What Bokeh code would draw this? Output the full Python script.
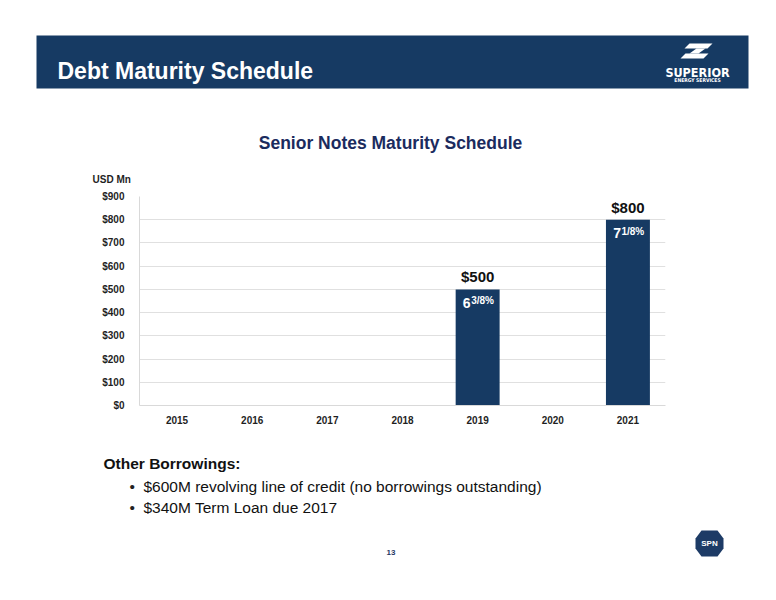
from bokeh.plotting import figure
from bokeh.models import Range1d, FactorRange, ColumnDataSource, LabelSet, FixedTicker
from bokeh.layouts import column
from bokeh.embed import file_html
from bokeh.resources import INLINE
from bokeh.core.properties import value

# ---------------- data ----------------
years = ["2015", "2016", "2017", "2018", "2019", "2020", "2021"]
maturities = [0, 0, 0, 0, 500, 0, 800]          # USD Mn
note_years = ["2019", "2021"]
note_amounts = [500, 800]
note_labels = ["$500", "$800"]
coupon_whole = ["6", "7"]
coupon_frac = ["3/8%", "1/8%"]
y_ticks = [0, 100, 200, 300, 400, 500, 600, 700, 800, 900]
y_tick_labels = ["$0", "$100", "$200", "$300", "$400", "$500", "$600", "$700", "$800", "$900"]
slide_title = "Debt Maturity Schedule"
chart_title = "Senior Notes Maturity Schedule"
unit_label = "USD Mn"
other_head = "Other Borrowings:"
bullets = ["$600M revolving line of credit (no borrowings outstanding)",
           "$340M Term Loan due 2017"]
page_no = "13"

NAVY = "#163a63"
FONT = "Liberation Sans"
W = 776


def canvas(h):
    p = figure(width=W, height=h, x_range=Range1d(0, W), y_range=Range1d(h, 0),
               x_axis_type=None, y_axis_type=None, toolbar_location=None,
               output_backend="svg")
    p.frame_align = False
    p.min_border_left = 0
    p.min_border_right = 0
    p.min_border_top = 0
    p.min_border_bottom = 0
    p.outline_line_color = None
    p.background_fill_color = "white"
    p.border_fill_color = "white"
    return p


# ---------------- header ----------------
top = canvas(185)
top.quad(left=36, right=748, top=35, bottom=88, fill_color=NAVY, line_color=None)
top.text(x=[57], y=[70.5], text=[slide_title], text_font=value(FONT),
         text_font_size="23px", text_font_style="bold", text_color="white",
         text_align="left", text_baseline="alphabetic")
# logo mark
top.patches(xs=[[689, 712, 707, 684], [685, 708, 703, 680], [696, 705, 698, 689]],
            ys=[[43, 43, 48, 48], [53, 53, 58, 58], [48, 48, 53, 53]],
            fill_color="white", line_color=None)
top.text(x=[697], y=[72], text=["SUPERIOR"], text_font=value("DejaVu Sans Condensed"),
         text_font_size="12.5px", text_font_style="bold", text_color="white",
         text_align="center", text_baseline="alphabetic")
top.text(x=[697], y=[79], text=["ENERGY SERVICES"], text_font=value("DejaVu Sans Condensed"),
         text_font_size="5px", text_font_style="bold", text_color="white",
         text_align="center", text_baseline="alphabetic")
top.text(x=[390], y=[142.5], text=[chart_title], text_font=value(FONT),
         text_font_size="17.5px", text_font_style="bold", text_color="#1b2b5e",
         text_align="center", text_baseline="alphabetic")
top.text(x=[92], y=[179], text=[unit_label], text_font=value(FONT),
         text_font_size="10px", text_font_style="bold", text_color="#1f1f1f",
         text_align="left", text_baseline="alphabetic")

# ---------------- chart ----------------
chart = figure(width=W, height=245, x_range=FactorRange(factors=years),
               y_range=Range1d(0, 900), toolbar_location=None, output_backend="svg")
chart.frame_align = False
chart.min_border_left = 139
chart.min_border_right = 111
chart.min_border_top = 11
chart.min_border_bottom = 25
chart.outline_line_color = None
chart.background_fill_color = "white"
chart.border_fill_color = "white"

src = ColumnDataSource(dict(year=years, value=maturities))
chart.vbar(x="year", top="value", width=0.585, source=src,
           fill_color=NAVY, line_color=None)

ticker = FixedTicker(ticks=y_ticks)
chart.yaxis.ticker = ticker
chart.ygrid.ticker = ticker
chart.yaxis.major_label_overrides = {t: l for t, l in zip(y_ticks, y_tick_labels)}
chart.xgrid.grid_line_color = None
chart.ygrid.grid_line_color = "#e0e0e0"
chart.ygrid.grid_line_width = 1

for ax in (chart.xaxis[0], chart.yaxis[0]):
    ax.major_tick_line_color = None
    ax.minor_tick_line_color = None
    ax.axis_line_color = "#d9d9d9"
    ax.major_label_text_font = FONT
    ax.major_label_text_font_size = "10px"
    ax.major_label_text_font_style = "bold"
    ax.major_label_text_color = "#1f1f1f"
chart.yaxis.major_label_standoff = 9
chart.xaxis.major_label_standoff = 4

lab_src = ColumnDataSource(dict(year=note_years, value=note_amounts, lab=note_labels,
                                whole=coupon_whole, frac=coupon_frac))
chart.add_layout(LabelSet(x="year", y="value", text="lab", source=lab_src,
                          y_offset=7, text_align="center", text_baseline="alphabetic",
                          text_font=value(FONT), text_font_size="15px",
                          text_font_style="bold", text_color="#111111"))
chart.add_layout(LabelSet(x="year", y="value", text="whole", source=lab_src,
                          x_offset=-7, y_offset=-18.5, text_align="right",
                          text_baseline="alphabetic", text_font=value(FONT),
                          text_font_size="14px", text_font_style="bold",
                          text_color="white"))
chart.add_layout(LabelSet(x="year", y="value", text="frac", source=lab_src,
                          x_offset=-6.5, y_offset=-15, text_align="left",
                          text_baseline="alphabetic", text_font=value(FONT),
                          text_font_size="10px", text_font_style="bold",
                          text_color="white"))

# ---------------- bottom text ----------------
bot = canvas(170)
bot.text(x=[103], y=[33], text=[other_head], text_font=value(FONT),
         text_font_size="15.5px", text_font_style="bold", text_color="#111111",
         text_align="left", text_baseline="alphabetic")
bot.text(x=[129, 129], y=[56, 77], text=["\u2022", "\u2022"], text_font=value(FONT),
         text_font_size="15.5px", text_color="#222222",
         text_align="left", text_baseline="alphabetic")
bot.text(x=[143, 143], y=[56, 77], text=bullets, text_font=value(FONT),
         text_font_size="15.5px", text_color="#111111",
         text_align="left", text_baseline="alphabetic")
bot.text(x=[390.5], y=[122], text=[page_no], text_font=value(FONT),
         text_font_size="8px", text_font_style="bold", text_color="#1f3864",
         text_align="center", text_baseline="alphabetic")
cx, cy = 709, 113
bot.patch(x=[cx - 8, cx + 8, cx + 14, cx + 14, cx + 8, cx - 8, cx - 14, cx - 14],
          y=[cy - 13, cy - 13, cy - 5, cy + 5, cy + 13, cy + 13, cy + 5, cy - 5],
          fill_color="#1d3b66", line_color=None)
bot.text(x=[cx], y=[cy], text=["SPN"], text_font=value(FONT),
         text_font_size="8px", text_font_style="bold", text_color="white",
         text_align="center", text_baseline="middle")

layout = column(top, chart, bot, spacing=0)
open("out.html", "w").write(file_html(layout, INLINE))
